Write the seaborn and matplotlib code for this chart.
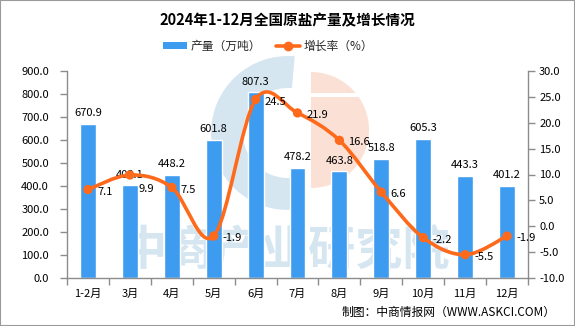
import numpy as np
import pandas as pd
import matplotlib
matplotlib.use("Agg")
import matplotlib.pyplot as plt
import seaborn as sns
from matplotlib.path import Path
from matplotlib.patches import PathPatch, Wedge, Rectangle, Patch
from matplotlib.lines import Line2D
from matplotlib.transforms import IdentityTransform

# ---- data ----
months = ["1-2月", "3月", "4月", "5月", "6月", "7月", "8月", "9月", "10月", "11月", "12月"]
output = [670.9, 403.1, 448.2, 601.8, 807.3, 478.2, 463.8, 518.8, 605.3, 443.3, 401.2]
growth = [7.1, 9.9, 7.5, -1.9, 24.5, 21.9, 16.6, 6.6, -2.2, -5.5, -1.9]
left_ticks = [0, 100, 200, 300, 400, 500, 600, 700, 800, 900]
right_ticks = [-10, -5, 0, 5, 10, 15, 20, 25, 30]

BLUE = "#3e9cf0"
ORANGE = "#fe6a1c"
GRAY = "#8c8c8c"

sns.set_theme(style="white")
plt.rcParams["font.family"] = ["Noto Sans CJK SC", "DejaVu Sans"]
plt.rcParams["axes.unicode_minus"] = False

W, H = 575, 326
fig = plt.figure(figsize=(W / 100, H / 100), dpi=100)
fig.patch.set_facecolor("white")

# ---- watermark (behind everything) ----
idt = IdentityTransform()
wm_blue = "#d6e6f1"
wm_orange = "#fbe1d5"
fig.patches.append(Wedge((288, H - 133), 77, 85, 275, width=32, facecolor=wm_blue,
                         edgecolor="none", transform=idt, zorder=-6))
fig.patches.append(Wedge((311, H - 130), 58, -90, 90, facecolor=wm_orange,
                         edgecolor="none", transform=idt, zorder=-6))
fig.patches.append(Rectangle((309, H - 97), 62, 4, facecolor="white",
                             edgecolor="none", transform=idt, zorder=-5))
fig.text(285 / W, 1 - 250 / H, "中商产业研究院", fontsize=34, fontweight="bold",
         color=wm_blue, ha="center", va="center", zorder=-4)

# ---- main axes ----
ax = fig.add_axes([67 / W, 1 - 278 / H, (528 - 67) / W, (278 - 71) / H])
ax.set_facecolor("none")
df = pd.DataFrame({"month": months, "output": output, "growth": growth})
sns.barplot(data=df, x="month", y="output", color=BLUE, saturation=1,
            width=0.38, ax=ax, zorder=2)
ax.set_xlim(-0.5, len(months) - 0.5)
ax.set_ylim(0, 900)
ax.set_yticks(left_ticks)
ax.set_yticklabels([f"{v:.1f}" for v in left_ticks])
ax.set_xlabel("")
ax.set_ylabel("")
ax.set_xticks(np.arange(-0.5, len(months), 1), minor=True)
ax.tick_params(axis="y", which="major", left=True, length=5, width=1, color=GRAY,
               direction="out", labelsize=8, pad=8, labelcolor="black")
ax.tick_params(axis="x", which="major", length=0, labelsize=8, pad=8, labelcolor="black")
ax.tick_params(axis="x", which="minor", bottom=True, length=5, width=1, color=GRAY,
               direction="out")
for s in ["top", "right"]:
    ax.spines[s].set_visible(False)
for s in ["left", "bottom"]:
    ax.spines[s].set_color(GRAY)
    ax.spines[s].set_linewidth(1)

for i, v in enumerate(output):
    ax.annotate(f"{v:.1f}", (i, v), xytext=(0, 4), textcoords="offset points",
                ha="center", va="bottom", fontsize=8, color="black", zorder=6)

# ---- growth axis ----
ax2 = ax.twinx()
ax2.set_ylim(-10, 30)
ax2.set_yticks(right_ticks)
ax2.set_yticklabels([f"{v:.1f}" for v in right_ticks])
ax2.tick_params(axis="y", right=True, length=5, width=1, color=GRAY, direction="out",
                labelsize=8, pad=3, labelcolor="black")
for s in ["top", "left", "bottom"]:
    ax2.spines[s].set_visible(False)
ax2.spines["right"].set_color(GRAY)
ax2.spines["right"].set_linewidth(1)

# smooth curve (Catmull-Rom as cubic Bezier in data coordinates)
n = len(growth)
xs = np.arange(n, dtype=float)
ys = np.array(growth, dtype=float)
verts = [(xs[0], ys[0])]
codes = [Path.MOVETO]
for i in range(n - 1):
    a = i - 1 if i > 0 else i
    d = i + 2 if i + 2 < n else i + 1
    c1 = (xs[i] + (xs[i + 1] - xs[a]) / 6, ys[i] + (ys[i + 1] - ys[a]) / 6)
    c2 = (xs[i + 1] - (xs[d] - xs[i]) / 6, ys[i + 1] - (ys[d] - ys[i]) / 6)
    verts += [c1, c2, (xs[i + 1], ys[i + 1])]
    codes += [Path.CURVE4] * 3
ax2.add_patch(PathPatch(Path(verts, codes), facecolor="none", edgecolor=ORANGE,
                        lw=2.6, zorder=4, capstyle="round", joinstyle="round"))
sns.scatterplot(x=xs, y=ys, ax=ax2, color=ORANGE, s=45, edgecolor="none",
                zorder=5, legend=False)
for i, v in enumerate(growth):
    dy = -10 if i == 1 else -1.5
    ax2.annotate(f"{v:.1f}", (i, v), xytext=(6.5, dy), textcoords="offset points",
                 ha="left", va="center", fontsize=8, color="black", zorder=6)

# ---- title, legend, source ----
fig.text(287 / W, 1 - 20 / H, "2024年1-12月全国原盐产量及增长情况", ha="center",
         va="center", fontsize=10.5, fontweight="bold", color="black")
handles = [Patch(facecolor=BLUE, edgecolor="none"),
           Line2D([0], [0], color=ORANGE, lw=2.6, marker="o", markersize=6)]
fig.legend(handles, ["产量（万吨）", "增长率（%）"], loc="center",
           bbox_to_anchor=(268 / W, 1 - 46 / H), ncol=2, frameon=False,
           fontsize=8.5, handlelength=2.1, handleheight=0.6, handletextpad=0.3,
           columnspacing=1.2)
fig.text(556 / W, 1 - 312 / H, "制图：中商情报网（WWW.ASKCI.COM）", ha="right",
         va="center", fontsize=8.5, color="black")

fig.patches.append(Rectangle((0, 0), 1, 1, transform=fig.transFigure, fill=False,
                             edgecolor="#9a9a9a", lw=1.5, zorder=10))

fig.savefig("out.png", dpi=100)
